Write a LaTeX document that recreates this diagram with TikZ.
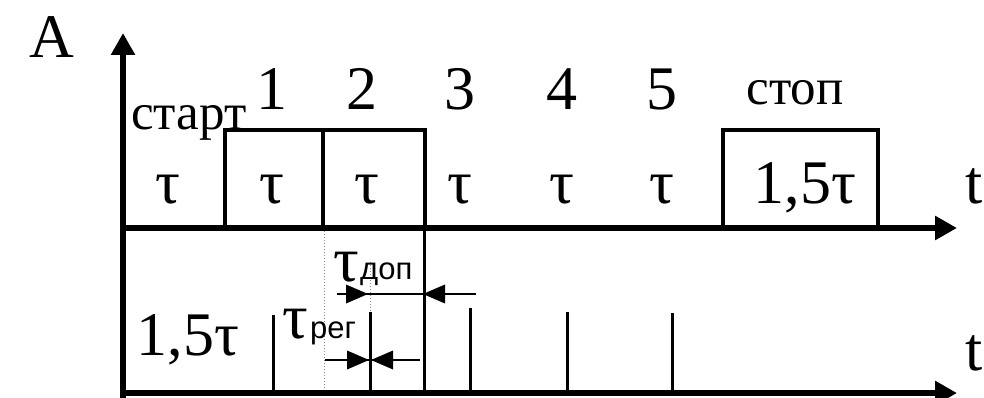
\documentclass[tikz,border=0pt]{standalone}
\usepackage{fontspec}
\setmainfont{Liberation Serif}
\newfontfamily\subsans{Liberation Sans}
\usetikzlibrary{arrows.meta}
\tikzset{
  axisline/.style={line width=5.5pt,-{Triangle[length=22pt,width=23pt]}},
  boxline/.style={line width=3.5pt,line join=miter},
  pulseline/.style={line width=3pt},
  dimline/.style={line width=1.6pt},
  dimtip/.style={line width=1.6pt,-{Triangle[length=22pt,width=19pt]}},
  guide/.style={line width=1pt,black!45,dotted},
  big/.style={font=\fontsize{62}{70}\selectfont,inner sep=0pt,anchor=base},
  word/.style={font=\fontsize{51}{60}\selectfont,inner sep=0pt,anchor=base},
  taul/.style={font=\fontsize{64}{70}\selectfont,inner sep=0pt,anchor=base west},
  subl/.style={font=\subsans\fontsize{31}{36}\selectfont,inner sep=0pt,anchor=base west}
}
\begin{document}
\begin{tikzpicture}[x=1pt,y=-1pt]
\useasboundingbox (0,0) rectangle (984,398);
% coordinates
\coordinate (O) at (123,400);
\coordinate (Ytop) at (123,33);
\coordinate (u0) at (120,228);
\coordinate (uend) at (957,228);
\coordinate (l0) at (120,393);
\coordinate (lend) at (957,393);
% guides (dotted)
\coordinate (g1a) at (324,231);
\coordinate (g1b) at (324,391);
\coordinate (g2a) at (370,262);
\coordinate (g2b) at (370,312);
\draw[guide] (g1a) -- (g1b);
\draw[guide] (g2a) -- (g2b);
% axes
\draw[axisline] (O) -- (Ytop);
\draw[axisline] (u0) -- (uend);
\draw[axisline] (l0) -- (lend);
% upper pulses
\draw[boxline] (225,228) -- (225,130) -- (425,130) -- (425,228);
\draw[boxline] (323,130) -- (323,228);
\draw[boxline] (723,228) -- (723,130) -- (878,130) -- (878,228);
% lower pulses
\foreach \x/\t in {273/315,370/312,424/229,470/308,567/312,672/313}
  \draw[pulseline] (\x,\t) -- (\x,393);
% dimension tau_dop
\coordinate (d1s) at (337,294);
\coordinate (d1a) at (368,294);
\coordinate (d1b) at (423,294);
\coordinate (d1e) at (476,294);
\draw[dimline] (d1s) -- (d1e);
\fill (d1a) -- ++(-22,-9.5) -- ++(0,19) -- cycle;
\fill (d1b) -- ++(22,-9.5) -- ++(0,19) -- cycle;
% dimension tau_reg
\coordinate (d2s) at (325,360);
\coordinate (d2a) at (369,360);
\coordinate (d2b) at (371,360);
\coordinate (d2e) at (420,360);
\draw[dimline] (d2s) -- (d2e);
\fill (d2a) -- ++(-22,-9.5) -- ++(0,19) -- cycle;
\fill (d2b) -- ++(22,-9.5) -- ++(0,19) -- cycle;
% labels
\node[big] (A) at (52,58) {A};
\node[big] (n1) at (272,110) {1};
\node[big] (n2) at (362,110) {2};
\node[big] (n3) at (460,110) {3};
\node[big] (n4) at (562,110) {4};
\node[big] (n5) at (662,110) {5};
\node[word] (start) at (189,130) {старт};
\node[word] (stop) at (795,105) {стоп};
\node[big] (t0) at (168,203) {τ};
\node[big] (t1) at (272,203) {τ};
\node[big] (t2) at (367,203) {τ};
\node[big] (t3) at (460,203) {τ};
\node[big] (t4) at (562,203) {τ};
\node[big] (t5) at (662,203) {τ};
\node[big] (tstop) at (805,203) {1,5τ};
\node[big] (tu) at (974,203) {t};
\node[big] (tl) at (974,370) {t};
\node[big] (tlow) at (188,355) {1,5τ};
\node[taul] (tdop) at (333,281) {τ};
\node[subl] (dop) at (360,279) {доп};
\node[taul] (treg) at (282,338) {τ};
\node[subl] (reg) at (310,338) {рег};
\end{tikzpicture}
\end{document}
